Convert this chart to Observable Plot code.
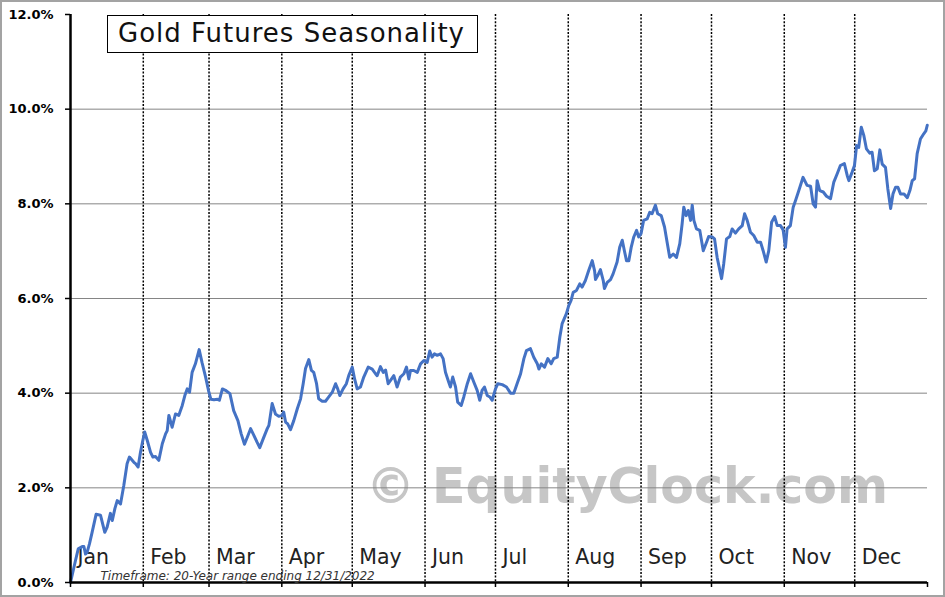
<!DOCTYPE html>
<html>
<head>
<meta charset="utf-8">
<script src="https://cdn.jsdelivr.net/npm/d3@7"></script>
<script src="https://cdn.jsdelivr.net/npm/@observablehq/plot@0.6"></script>
<style>
  html, body { margin: 0; padding: 0; background: #fff; }
  #wrap { position: relative; width: 945px; height: 597px; overflow: hidden; background: #fff; }
  #border { position: absolute; left: 0; top: 0; width: 945px; height: 597px; box-sizing: border-box; border: 2px solid #a3a3a3; pointer-events: none; }
  #title { position: absolute; left: 107px; top: 15px; width: 371px; height: 38px; box-sizing: border-box;
           border: 1.5px solid #000; background: #fff; font-family: "DejaVu Sans", Verdana, sans-serif;
           font-size: 26px; letter-spacing: 1px; color: #111; line-height: 35px; padding-left: 10px; white-space: nowrap; }
  svg g[aria-label="y-axis tick label"] text { font-weight: bold; }
</style>
</head>
<body>
<div id="wrap">
  <div id="chart"></div>
  <div id="title">Gold Futures Seasonality</div>
  <div id="border"></div>
</div>
<script>
// Day of year (0 = Jan 1) and average seasonal return (%)
const days = [0, 2.1, 3.3, 5.0, 5.7, 6.4, 7.1, 8.1, 9.2, 10.9, 12.8, 14.6, 15.6, 17.0, 17.8, 18.9, 19.9, 21.3, 22.7, 24.1,
  25.1, 27.0, 27.7, 28.8, 29.8, 30.8, 31.6, 32.7, 34.1, 35.1, 36.2, 37.6, 39.1, 40.5, 41.2, 41.9, 43.3, 44.7, 46.1, 47.6,
  48.7, 49.7, 50.7, 51.8, 53.2, 54.8, 56.0, 57.5, 58.8, 59.8, 61.1, 62.6, 63.4, 64.7, 66.0, 67.9, 69.5, 71.3, 72.7,
  74.1, 75.3, 76.7, 78.1, 79.5, 80.6, 82.1, 83.8, 84.5, 85.9, 87.3, 88.7, 90.2, 90.8, 91.6, 92.5, 93.7, 95.1, 96.6,
  98.0, 99.1, 100.1, 101.5, 102.6, 103.6, 104.8, 105.7, 107.2, 108.6, 110.0, 111.5, 112.9, 113.8, 114.7, 116.1, 117.5,
  118.5, 120.0, 121.0, 122.1, 123.5, 124.9, 126.8, 128.5, 129.9, 130.6, 132.0, 133.2, 134.2, 135.3, 136.3, 137.7,
  139.1, 140.5, 142.0, 143.1, 144.1, 144.8, 146.2, 147.7, 149.1, 150.5, 151.9, 153.0, 154.0, 155.0, 156.2, 157.6,
  158.7, 159.7, 161.1, 161.8, 162.8, 164.0, 164.9, 166.4, 167.5, 169.0, 170.4, 171.8, 173.2, 174.3, 175.3, 176.3,
  177.5, 178.6, 179.6, 181.0, 182.0, 183.9, 185.7, 187.4, 188.8, 190.2, 191.7, 193.1, 194.2, 195.9, 197.3, 198.8,
  199.5, 200.5, 201.9, 203.3, 204.7, 205.8, 207.3, 208.4, 209.4, 211.2, 212.2, 213.2, 214.1, 215.5, 216.9, 217.9,
  219.3, 220.7, 222.2, 223.2, 223.6, 224.6, 225.7, 226.9, 227.4, 228.6, 230.0, 231.1, 232.8, 233.9, 235.0, 235.9,
  236.8, 237.8, 238.8, 239.9, 241.1, 242.0, 243.0, 244.1, 245.6, 246.7, 247.7, 249.1, 250.1, 251.6, 253.0, 254.1,
  255.2, 256.7, 258.1, 259.5, 260.5, 261.2, 262.2, 263.1, 264.1, 264.8, 265.5, 266.6, 268.0, 269.5, 270.9, 271.8,
  273.3, 274.3, 275.4, 277.3, 278.2, 279.4, 280.8, 281.8, 283.2, 284.6, 286.1, 287.1, 288.2, 289.6, 291.0, 292.5,
  293.9, 295.0, 296.3, 297.4, 298.6, 299.9, 301.0, 302.4, 303.5, 304.5, 305.2, 306.6, 307.8, 308.8, 310.2, 312.0,
  313.7, 315.2, 316.3, 317.3, 318.0, 319.1, 320.6, 322.0, 323.7, 325.1, 326.5, 327.9, 329.6, 330.8, 331.5, 332.9,
  333.9, 334.8, 335.7, 336.8, 337.9, 339.0, 340.4, 341.4, 342.4, 343.6, 344.7, 345.7, 347.1, 348.1, 349.3, 350.3,
  351.4, 352.4, 353.5, 355.0, 356.4, 357.5, 358.5, 359.5, 360.6, 362.0, 363.4, 364.3, 364.9];
const values = [0.00, 0.46, 0.71, 0.76, 0.76, 0.60, 0.64, 0.82, 1.06, 1.44, 1.42, 1.06, 1.17, 1.46, 1.31, 1.56, 1.73, 1.66, 2.05, 2.51,
  2.65, 2.54, 2.51, 2.44, 2.75, 3.00, 3.18, 3.00, 2.75, 2.65, 2.66, 2.58, 2.93, 3.14, 3.21, 3.53, 3.28, 3.56, 3.53, 3.74,
  3.95, 4.09, 4.02, 4.44, 4.62, 4.92, 4.65, 4.35, 4.05, 3.87, 3.86, 3.87, 3.85, 4.09, 4.06, 3.99, 3.63, 3.42, 3.14,
  2.92, 3.07, 3.25, 3.11, 2.96, 2.85, 3.04, 3.25, 3.32, 3.78, 3.56, 3.51, 3.53, 3.60, 3.39, 3.35, 3.23, 3.42, 3.67,
  3.88, 4.20, 4.52, 4.71, 4.48, 4.44, 4.20, 3.88, 3.83, 3.83, 3.92, 4.02, 4.20, 4.09, 3.95, 4.09, 4.20,
  4.37, 4.55, 4.30, 4.09, 4.13, 4.34, 4.55, 4.51, 4.41, 4.37, 4.56, 4.44, 4.49, 4.20, 4.27, 4.37,
  4.13, 4.34, 4.41, 4.55, 4.30, 4.48, 4.48, 4.44, 4.62, 4.69, 4.65, 4.89, 4.76, 4.83, 4.80, 4.83,
  4.73, 4.44, 4.23, 4.13, 4.34, 4.13, 3.81, 3.74, 3.92, 4.20, 4.41, 4.23, 4.06, 3.85, 4.06, 4.13,
  3.95, 3.92, 3.85, 4.09, 4.20, 4.18, 4.13, 4.00, 4.00, 4.20, 4.41, 4.73, 4.90, 4.94, 4.76, 4.62,
  4.51, 4.62, 4.55, 4.73, 4.62, 4.73, 4.76, 5.18, 5.47, 5.68, 5.85, 5.96, 6.13, 6.17, 6.31, 6.24,
  6.38, 6.59, 6.80, 6.59, 6.40, 6.49, 6.61, 6.38, 6.21, 6.34, 6.40, 6.52, 6.77, 7.08, 7.23, 7.01,
  6.80, 6.80, 7.08, 7.30, 7.44, 7.30, 7.37, 7.65, 7.68, 7.82, 7.79, 7.97, 7.79, 7.75, 7.51, 7.19,
  6.87, 6.94, 6.87, 7.16, 7.58, 7.93, 7.75, 7.86, 7.65, 7.97, 7.65, 7.47, 7.44, 7.01, 7.19, 7.31,
  7.30, 7.26, 6.87, 6.42, 6.73, 7.26, 7.31, 7.47, 7.38, 7.47, 7.54, 7.79, 7.65, 7.40, 7.33, 7.19,
  7.19, 7.01, 6.77, 7.01, 7.61, 7.73, 7.54, 7.54, 7.45, 7.08, 7.47, 7.54, 7.93, 8.07, 8.28, 8.56,
  8.39, 8.37, 8.00, 7.93, 8.49, 8.28, 8.25, 8.16, 8.11, 8.46, 8.63, 8.81, 8.85, 8.60, 8.49, 8.67,
  8.81, 9.23, 9.19, 9.62, 9.44, 9.16, 9.07, 9.09, 8.70, 8.74, 9.14, 8.84, 8.77, 8.32, 7.90, 8.21,
  8.35, 8.35, 8.21, 8.21, 8.13, 8.28, 8.49, 8.53, 9.06, 9.37, 9.48, 9.54, 9.66];
const monthLabels = ["Jan", "Feb", "Mar", "Apr", "May", "Jun", "Jul", "Aug", "Sep", "Oct", "Nov", "Dec"];
const yTicks = [0, 2, 4, 6, 8, 10, 12];
const gridValues = [2, 4, 6, 8, 10];
const titleText = "Gold Futures Seasonality";
const timeframeText = "Timeframe: 20-Year range ending 12/31/2022";
const watermarkText = "\u00A9 EquityClock.com";

const start = new Date(Date.UTC(2022, 0, 1));
const end = new Date(Date.UTC(2023, 0, 1));
const data = days.map((d, i) => ({ date: new Date(start.getTime() + d * 864e5), value: values[i] }));
const monthStarts = monthLabels.map((label, i) => ({ date: new Date(Date.UTC(2022, i, 1)), label }));

const chart = Plot.plot({
  width: 945,
  height: 597,
  marginLeft: 70,
  marginRight: 18,
  marginTop: 14,
  marginBottom: 15,
  style: { fontFamily: "DejaVu Sans, Verdana, sans-serif", background: "transparent", color: "#000" },
  x: { type: "utc", domain: [start, end], axis: null },
  y: { domain: [0, 12], axis: null },
  marks: [
    Plot.text([watermarkText], {
      frameAnchor: "bottom", text: d => d, dx: 128, dy: -80, lineAnchor: "bottom",
      fontSize: 49, fontWeight: "bold", fill: "#c6c6c6"
    }),
    Plot.ruleY(gridValues, { stroke: "#858585", strokeWidth: 1 }),
    Plot.ruleX(monthStarts.slice(1), { x: "date", stroke: "#000", strokeWidth: 1.5, strokeDasharray: "2,1.6" }),
    Plot.text(monthStarts, {
      x: "date", text: "label", frameAnchor: "bottom", textAnchor: "start", lineAnchor: "bottom",
      dx: 7, dy: -19, fontSize: 20.5, fill: "#222"
    }),
    Plot.line(data, { x: "date", y: "value", stroke: "#4472C4", strokeWidth: 3, strokeLinejoin: "round" }),
    Plot.ruleX([start], { stroke: "#000", strokeWidth: 2.5 }),
    Plot.ruleY([0], { stroke: "#000", strokeWidth: 2.5 }),
    Plot.axisY(yTicks, {
      label: null, tickSize: 5, tickPadding: 12, tickFormat: d => d.toFixed(1) + "%",
      fontSize: 13, fontWeight: "bold", stroke: "#000", strokeWidth: 1.5, fill: "#000"
    }),
    Plot.axisX([...monthStarts.map(d => d.date), end], {
      label: null, tickSize: 5, tickFormat: () => "", stroke: "#000", strokeWidth: 1.5
    }),
    Plot.text([timeframeText], {
      frameAnchor: "bottom-left", text: d => d, textAnchor: "start", lineAnchor: "bottom",
      dx: 30, dy: -3, fontSize: 12, fontStyle: "italic", fill: "#333"
    })
  ]
});
document.getElementById("chart").appendChild(chart);
document.getElementById("title").textContent = titleText;
</script>
</body>
</html>
